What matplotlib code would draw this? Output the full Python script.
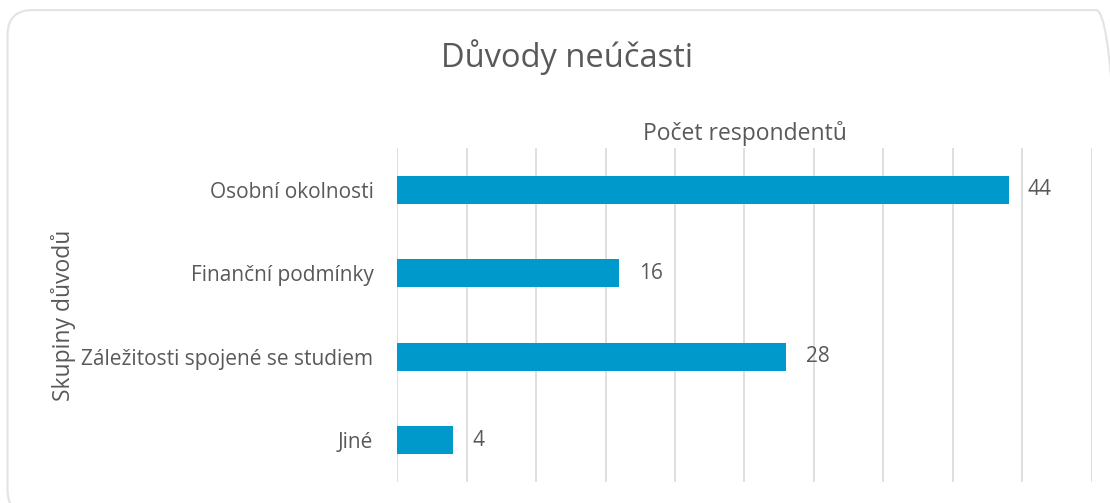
import matplotlib.pyplot as plt
from matplotlib.patches import FancyBboxPatch

plt.rcParams['font.family'] = ['Open Sans', 'DejaVu Sans']

# Data
kategorie = ["Osobní okolnosti", "Finanční podmínky", "Záležitosti spojené se studiem", "Jiné"]
pocty = [44, 16, 28, 4]

text_color = "#595959"
bar_color = "#0099CC"
grid_color = "#D9D9D9"

fig = plt.figure(figsize=(11.1, 5.03), dpi=100)

# Rounded chart frame (runs past the right and bottom edge)
frame = FancyBboxPatch((0.0068, -0.024), 1.003, 1.004,
                       boxstyle="round,pad=0,rounding_size=0.0225",
                       transform=fig.transFigure, facecolor="none",
                       edgecolor="#E3E3E3", linewidth=1.5, zorder=-1,
                       mutation_aspect=1110 / 503)
fig.patches.append(frame)

ax = fig.add_axes([0.3577, 0.0417, 0.626, 0.664])
ax.set_facecolor("none")

y = list(range(len(kategorie)))
ax.barh(y, pocty, height=0.34, color=bar_color, zorder=3)

ax.set_xlim(0, 50)
ax.set_ylim(len(kategorie) - 0.5, -0.5)
ax.set_xticks(range(0, 51, 5))
ax.set_xticklabels([])
ax.tick_params(axis="x", length=0)
ax.tick_params(axis="y", length=0, pad=17, labelsize=15, labelcolor=text_color)
ax.set_yticks(y)
ax.set_yticklabels(kategorie)
ax.grid(axis="x", color=grid_color, linewidth=1.2, zorder=0)

for s in ax.spines.values():
    s.set_visible(False)

# Data labels
for yi, v in zip(y, pocty):
    ax.annotate(str(v), (v, yi), xytext=(14, 0), textcoords="offset points",
                va="center", ha="left", fontsize=15, color=text_color)

ax.xaxis.set_label_position("top")
ax.set_xlabel("Počet respondentů", fontsize=16.5, color=text_color, labelpad=6)
ax.set_ylabel("Skupiny důvodů", fontsize=16.5, color=text_color, labelpad=4)

fig.text(0.511, 0.887, "Důvody neúčasti", ha="center", va="center",
         fontsize=23.5, color=text_color)

plt.savefig("out.png", dpi=100)
